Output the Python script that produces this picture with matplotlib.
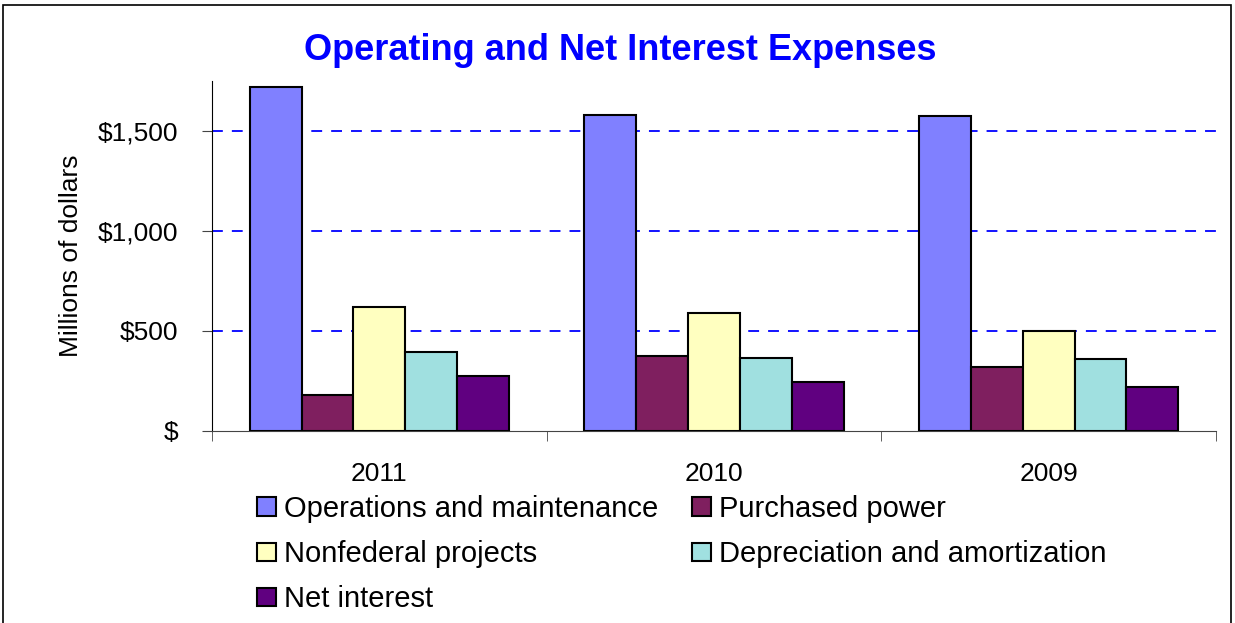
import numpy as np
import matplotlib.pyplot as plt
from matplotlib.patches import Rectangle
from matplotlib.ticker import FixedLocator, NullFormatter

plt.rcParams['font.family'] = ['Liberation Sans', 'DejaVu Sans']

years = ["2011", "2010", "2009"]
series = ["Operations and maintenance", "Purchased power", "Nonfederal projects",
          "Depreciation and amortization", "Net interest"]
ops_maint = [1720, 1582, 1573]
purchased_power = [180, 377, 322]
nonfederal = [620, 592, 500]
depreciation = [395, 367, 360]
net_interest = [277, 245, 219]
colors = ["#8080FF", "#7F1F5F", "#FFFFC0", "#A0E0E0", "#600080"]

values = [ops_maint, purchased_power, nonfederal, depreciation, net_interest]

fig = plt.figure(figsize=(12.35, 6.23), dpi=100)
ax = fig.add_axes([212 / 1235, 1 - 431 / 623, (1216 - 212) / 1235, 350 / 623])

# figure frame (bottom edge falls off the image)
fig.patches.append(Rectangle((3 / 1235, -0.05), 1228 / 1235, 1 - 5 / 623 + 0.05,
                             transform=fig.transFigure, fill=False,
                             edgecolor="black", linewidth=1.2))

x = np.arange(len(years))
width = 0.155
handles = []
for i, (name, vals, c) in enumerate(zip(series, values, colors)):
    b = ax.bar(x + (i - 2) * width, vals, width, color=c, edgecolor="black",
               linewidth=1.5, label=name, zorder=3)
    handles.append(b)

ax.set_xlim(-0.5, 2.5)
ax.set_ylim(0, 1750)

for y in [500, 1000, 1500]:
    ax.axhline(y, color="#0000FF", linestyle=(0, (6, 5)), linewidth=1.3, zorder=1)

ax.set_yticks([0, 500, 1000, 1500])
ax.set_yticklabels(["$", "$500", "$1,000", "$1,500"], fontsize=19)
ax.set_xticks(x)
ax.set_xticklabels(years, fontsize=19)
ax.tick_params(axis="x", which="major", length=0, pad=22)
ax.xaxis.set_minor_locator(FixedLocator([-0.5, 0.5, 1.5, 2.5]))
ax.xaxis.set_minor_formatter(NullFormatter())
ax.tick_params(axis="x", which="minor", length=7, color="#444444")
ax.tick_params(axis="y", length=7, pad=17, color="#444444")

for s in ["top", "right"]:
    ax.spines[s].set_visible(False)
ax.spines["left"].set_color("black")
ax.spines["bottom"].set_color("#444444")

ax.set_ylabel("Millions of dollars", fontsize=19)
ax.yaxis.set_label_coords(-(212 - 83) / 1004, 0.5)

fig.text(620 / 1235, 1 - 50 / 623, "Operating and Net Interest Expenses",
         ha="center", va="center", fontsize=26, fontweight="bold", color="#0000FF")

order = [0, 2, 4, 1, 3]
leg = fig.legend([handles[i] for i in order], [series[i] for i in order],
                 ncol=2, loc="upper left", bbox_to_anchor=(257 / 1235, 1 - 495 / 623),
                 frameon=False, fontsize=21, handlelength=0.65, handleheight=0.6,
                 handletextpad=0.28, columnspacing=1.15, labelspacing=0.59,
                 borderpad=0, borderaxespad=0)

fig.savefig("out.png", dpi=100)
